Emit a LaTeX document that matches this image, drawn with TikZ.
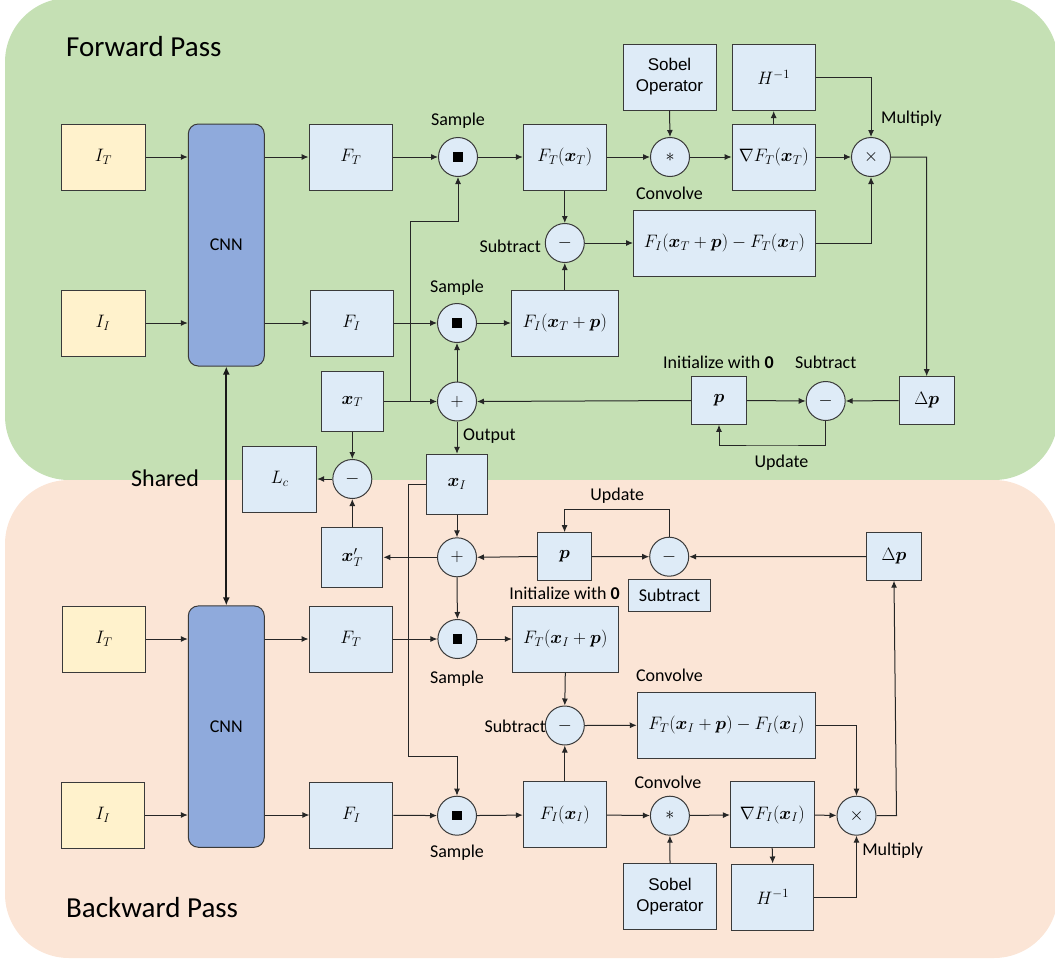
\RequirePackage{fix-cm}
\documentclass[tikz,border=0pt]{standalone}
\usepackage{amsmath}
\usepackage{bm}
\usepackage{fontspec}
\setmainfont{Carlito}
\newfontfamily\arialf{Liberation Sans}
\usetikzlibrary{arrows.meta,calc}
\definecolor{bgG}{HTML}{C5E0B4}
\definecolor{bgP}{HTML}{FBE5D6}
\definecolor{boxblue}{HTML}{DEEBF7}
\definecolor{cnnblue}{HTML}{8FAADC}
\definecolor{yel}{HTML}{FFF2CC}
\definecolor{edge}{HTML}{3A3A3A}
\tikzset{
 blk/.style={draw=edge, line width=1pt, fill=boxblue, inner sep=0pt, font=\fontsize{18}{21}\selectfont},
 ybox/.style={blk, fill=yel, minimum width=84pt, minimum height=66pt},
 cnnbox/.style={blk, fill=cnnblue, rounded corners=10pt, minimum width=76pt, minimum height=242pt},
 circ/.style={circle, draw=edge, line width=1pt, fill=boxblue, minimum size=39pt, inner sep=0pt, font=\fontsize{18}{21}\selectfont},
 lbl/.style={inner sep=0pt, font=\fontsize{18}{21}\selectfont},
 sob/.style={blk, align=center, font=\arialf\fontsize{17}{21}\selectfont},
 arr/.style={line width=1pt, draw=black!85, -{Latex[length=7pt,width=6pt]}},
}
\newcommand{\sq}{\rule{9.5pt}{9.5pt}}
\begin{document}
\begin{tikzpicture}[x=1pt,y=-1pt]
\useasboundingbox (0,0) rectangle (1055,961);
\fill[bgG, rounded corners=64pt] (5,-2) rectangle (1058,480);
\fill[bgP, rounded corners=64pt] (5,480) rectangle (1058,958);

\node[lbl, anchor=west, font=\fontsize{29}{32}\selectfont] (fwd) at (66,47) {Forward Pass};
\node[lbl, anchor=west, font=\fontsize{29}{32}\selectfont] (bwd) at (66,908) {Backward Pass};
\node[lbl, font=\fontsize{24}{28}\selectfont] (shared) at (165,478) {Shared};

% ---------- forward ----------
\node[ybox] (IT1) at (103.5,157) {$I_T$};
\node[ybox] (II1) at (103,323) {$I_I$};
\node[cnnbox] (CNN1) at (226.3,245) {CNN};
\node[blk, minimum width=83.5pt, minimum height=66pt] (FT1) at (350.8,157) {$F_T$};
\node[blk, minimum width=83pt, minimum height=66pt] (FI1) at (351.5,323) {$F_I$};
\node[circ] (S1) at (458,157) {\sq};
\node[circ] (S2) at (457,323) {\sq};
\node[blk, minimum width=83pt, minimum height=66pt] (FTx) at (564.8,157) {$F_T(\bm{x}_T)$};
\node[circ] (C1) at (670,157) {$\ast$};
\node[blk, minimum width=83pt, minimum height=66pt] (gFT) at (773.7,157) {$\nabla F_T(\bm{x}_T)$};
\node[circ] (M1) at (871,157) {$\times$};
\node[sob, minimum width=93pt, minimum height=66pt] (Sob1) at (669.5,77) {Sobel\\Operator};
\node[blk, minimum width=83pt, minimum height=66pt] (Hinv1) at (773.7,77.5) {$H^{-1}$};
\node[circ] (Sub1) at (564.8,243) {$-$};
\node[blk, minimum width=182pt, minimum height=66pt] (Diff1) at (724.5,243) {$F_I(\bm{x}_T+\bm{p})-F_T(\bm{x}_T)$};
\node[blk, minimum width=107pt, minimum height=66pt] (FIxp) at (564.8,323) {$F_I(\bm{x}_T+\bm{p})$};
\node[blk, minimum width=61.5pt, minimum height=60pt] (xT) at (352.3,401.5) {$\bm{x}_T$};
\node[circ] (P1) at (457,401.5) {$+$};
\node[blk, minimum width=55pt, minimum height=47.6pt] (p1) at (719,400.5) {$\bm{p}$};
\node[circ] (Ms1) at (825.7,401) {$-$};
\node[blk, minimum width=55pt, minimum height=47.6pt] (dp1) at (926.7,400.5) {$\Delta\bm{p}$};

\node[lbl] (lS1) at (458,121) {Sample};
\node[lbl] (lS2) at (457,288) {Sample};
\node[lbl] (lC1) at (669.5,193) {Convolve};
\node[lbl] (lM1) at (911.5,119) {Multiply};
\node[lbl, anchor=east] (lSub1) at (541,246) {Subtract};
\node[lbl, anchor=west] (lOut) at (463,436) {Output};
\node[lbl] (lInit1) at (718.4,362.5) {Initialize with \textbf{0}};
\node[lbl] (lSubt1) at (825.7,362.3) {Subtract};
\node[lbl] (lUp1) at (781.5,462.7) {Update};

% ---------- shared ----------
\node[blk, minimum width=74pt, minimum height=66pt] (Lc) at (279.7,479) {$L_c$};
\node[circ] (Mc) at (352.3,479) {$-$};
\node[blk, minimum width=61.7pt, minimum height=60pt] (xI) at (457,484.3) {$\bm{x}_I$};
\node[blk, minimum width=61.2pt, minimum height=59.7pt] (xTp) at (352.3,557.3) {$\bm{x}'_T$};

% ---------- backward ----------
\node[circ] (P2) at (457,557.3) {$+$};
\node[blk, minimum width=54.2pt, minimum height=47.6pt] (p2) at (564.6,556.5) {$\bm{p}$};
\node[circ] (Ms2) at (669.2,556.7) {$-$};
\node[blk, minimum width=81.8pt, minimum height=31.7pt] (SubBox) at (669.4,595.8) {Subtract};
\node[blk, minimum width=54.5pt, minimum height=47.4pt] (dp2) at (894,556.5) {$\Delta\bm{p}$};
\node[ybox, minimum width=83pt] (IT2) at (104,639) {$I_T$};
\node[ybox, minimum width=83.5pt] (II2) at (103,815) {$I_I$};
\node[cnnbox, minimum height=241.3pt] (CNN2) at (226.3,726.6) {CNN};
\node[blk, minimum width=83.5pt, minimum height=66pt] (FT2) at (350.8,639) {$F_T$};
\node[circ] (S3) at (457.4,639) {\sq};
\node[blk, minimum width=106pt, minimum height=66pt] (FTxp) at (565.3,639) {$F_T(\bm{x}_I+\bm{p})$};
\node[circ] (Ms3) at (564.8,725.5) {$-$};
\node[blk, minimum width=178.5pt, minimum height=66pt] (Diff2) at (726.5,725.3) {$F_T(\bm{x}_I+\bm{p})-F_I(\bm{x}_I)$};
\node[blk, minimum width=83pt, minimum height=66pt] (FI2) at (351.4,815) {$F_I$};
\node[circ] (S4) at (457,815.7) {\sq};
\node[blk, minimum width=83pt, minimum height=66pt] (FIx) at (564.8,814.7) {$F_I(\bm{x}_I)$};
\node[circ] (C2) at (669.9,815.7) {$\ast$};
\node[blk, minimum width=83.6pt, minimum height=65.6pt] (gFI) at (772.2,814.5) {$\nabla F_I(\bm{x}_I)$};
\node[circ] (M2) at (856.5,815.7) {$\times$};
\node[sob, minimum width=92.4pt, minimum height=66pt] (Sob2) at (670,896.3) {Sobel\\Operator};
\node[blk, minimum width=82.5pt, minimum height=66pt] (Hinv2) at (772.7,897) {$H^{-1}$};

\node[lbl] (lUp2) at (617.2,495.7) {Update};
\node[lbl] (lInit2) at (564.6,593) {Initialize with \textbf{0}};
\node[lbl] (lS3) at (457,678.3) {Sample};
\node[lbl] (lS4) at (457,852.7) {Sample};
\node[lbl] (lC2a) at (669.5,675) {Convolve};
\node[lbl] (lC2b) at (668,782.3) {Convolve};
\node[lbl, anchor=east] (lSub3) at (546,726.7) {Subtract};
\node[lbl] (lM2) at (892.7,851) {Multiply};

% ---------- forward connectors ----------
\draw[arr] (IT1.east) -- (IT1.east -| CNN1.west);
\draw[arr] (II1.east) -- (II1.east -| CNN1.west);
\draw[arr] (FT1.west -| CNN1.east) -- (FT1.west);
\draw[arr] (FI1.west -| CNN1.east) -- (FI1.west);
\draw[arr] (FT1) -- (S1);
\draw[arr] (S1) -- (FTx);
\draw[arr] (FTx) -- (C1);
\draw[arr] (C1) -- (gFT);
\draw[arr] (gFT) -- (M1);
\draw[arr] (Sob1.south) -- (C1.north);
\draw[arr] (gFT.north) -- (Hinv1.south);
\draw[arr] (Hinv1.east) -| (M1.north);
\draw[arr] (FTx.south) -- (Sub1.north);
\draw[arr] (FIxp.north) -- (Sub1.south);
\draw[arr] (Sub1.east) -- (Diff1.west);
\draw[arr] (Diff1.east) -| (M1.south);
\coordinate (r1) at (926.5,157);
\draw[arr] (M1.east) -- (r1) -- (dp1.north);
\draw[arr] (FI1) -- (S2);
\draw[arr] (S2) -- (FIxp);
\draw[arr] (xT.east) -- (P1.west);
\coordinate (j1) at (410,401.5);
\coordinate (k1) at (410,221.7);
\draw[arr] (j1) -- (k1) -| (S1.south);
\draw[arr] (P1.north) -- (S2.south);
\draw[arr] (p1.west) -- (P1.east);
\draw[arr] (p1.east) -- (Ms1.west);
\draw[arr] (dp1.west) -- (Ms1.east);
\coordinate (u1) at (772,445);
\draw[arr] (Ms1.south) |- (u1) -| (p1.south);
\draw[arr] (P1.south) -- (xI.north);

% ---------- shared connectors ----------
\draw[arr] (xT.south) -- (Mc.north);
\draw[arr] (Mc.west) -- (Lc.east);
\draw[arr] (xTp.north) -- (Mc.south);
\draw[line width=2pt, draw=black!90, {Latex[length=8pt,width=7pt]}-{Latex[length=8pt,width=7pt]}] (CNN1.south) -- (CNN2.north);

% ---------- backward connectors ----------
\draw[arr] (xI.south) -- (P2.north);
\draw[arr] (P2.west) -- (xTp.east);
\draw[arr] (p2.west) -- (P2.east);
\draw[arr] (p2.east) -- (Ms2.west);
\draw[arr] (dp2.west) -- (Ms2.east);
\coordinate (u2) at (617,509.3);
\draw[arr] (Ms2.north) |- (u2) -| (p2.north);
\draw[arr] (P2.south) -- (S3.north);
\coordinate (w1) at (408.7,484.3);
\coordinate (w2) at (408.7,756.7);
\draw[arr] (xI.west) -- (w1) -- (w2) -| (S4.north);
\draw[arr] (IT2.east) -- (IT2.east -| CNN2.west);
\draw[arr] (II2.east) -- (II2.east -| CNN2.west);
\draw[arr] (FT2.west -| CNN2.east) -- (FT2.west);
\draw[arr] (FI2.west -| CNN2.east) -- (FI2.west);
\draw[arr] (FT2) -- (S3);
\draw[arr] (S3) -- (FTxp);
\draw[arr] (FTxp.south) -- (Ms3.north);
\draw[arr] (FIx.north) -- (Ms3.south);
\draw[arr] (Ms3.east) -- (Diff2.west);
\draw[arr] (Diff2.east) -| (M2.north);
\draw[arr] (FI2) -- (S4);
\draw[arr] (S4) -- (FIx);
\draw[arr] (FIx) -- (C2);
\draw[arr] (C2) -- (gFI);
\draw[arr] (gFI) -- (M2);
\draw[arr] (Sob2.north) -- (C2.south);
\draw[arr] (gFI.south) -- (Hinv2.north);
\draw[arr] (Hinv2.east) -| (M2.south);
\coordinate (r2) at (896.5,815.7);
\draw[arr] (M2.east) -- (r2) -- (dp2.south);
\end{tikzpicture}
\end{document}
